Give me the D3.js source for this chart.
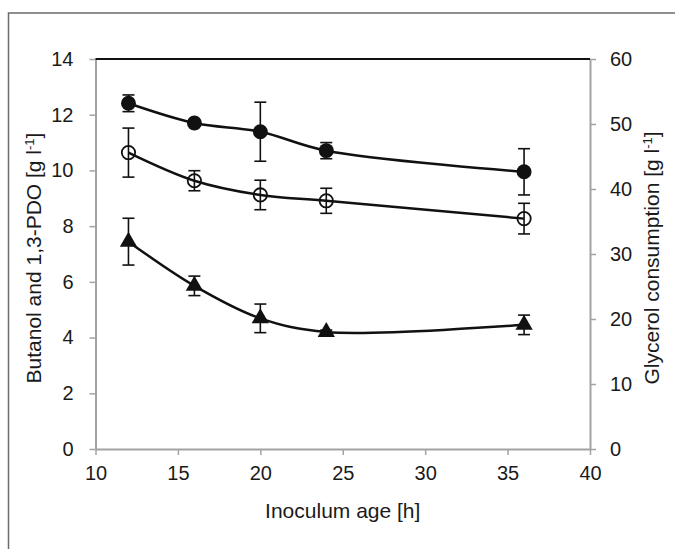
<!DOCTYPE html>
<html>
<head>
<meta charset="utf-8">
<script src="https://cdn.jsdelivr.net/npm/d3@7"></script>
<style>
  html, body { margin: 0; padding: 0; background: #fff; }
  svg { display: block; font-family: "Liberation Sans", Arial, sans-serif; }
</style>
</head>
<body>
<div id="chart"></div>
<script>
// Inoculum age vs product concentrations / glycerol consumption

// x values (inoculum age, h)
const ageHours = [12, 16, 20, 24, 36];

// left axis series (g/l)
const butanolValues = [12.41, 11.70, 11.39, 10.71, 9.95];
const butanolErrors = [0.3, 0.1, 1.06, 0.29, 0.83];
const pdoValues = [10.64, 9.63, 9.12, 8.91, 8.27];
const pdoErrors = [0.88, 0.36, 0.53, 0.45, 0.55];

// right axis series (g/l)
const glycerolValues = [31.9, 25.1, 20.1, 18.0, 19.1];
const glycerolErrors = [3.6, 1.5, 2.2, 0.3, 1.5];

// tick labels
const xTicks = [10, 15, 20, 25, 30, 35, 40];
const yLeftTicks = [0, 2, 4, 6, 8, 10, 12, 14];
const yRightTicks = [0, 10, 20, 30, 40, 50, 60];

const width = 675, height = 549;
const plot = { left: 95.5, right: 590, top: 59, bottom: 449 };

const svg = d3.select('#chart').append('svg')
  .attr('width', width)
  .attr('height', height);

// outer frame (top and left edges only visible)
svg.append('path')
  .attr('d', `M8.5,${height} L8.5,13 L${width},13`)
  .attr('fill', 'none')
  .attr('stroke', '#6b6b6b')
  .attr('stroke-width', 1.5);

const x = d3.scaleLinear().domain([10, 40]).range([plot.left, plot.right]);
const yL = d3.scaleLinear().domain([0, 14]).range([plot.bottom, plot.top]);
const yR = d3.scaleLinear().domain([0, 60]).range([plot.bottom, plot.top]);

const axisColor = '#a3a3a3';
const fontSize = 20;
const titleSize = 21;

function styleAxis(g) {
  g.selectAll('.domain').attr('stroke', axisColor).attr('stroke-width', 2);
  g.selectAll('.tick line').attr('stroke', axisColor).attr('stroke-width', 1.5);
  g.selectAll('.tick text').attr('fill', '#1a1a1a').style('font-size', fontSize + 'px');
}

// left axis
svg.append('g')
  .attr('transform', `translate(${plot.left},0)`)
  .call(d3.axisLeft(yL).tickValues(yLeftTicks).tickSize(6).tickPadding(16).tickSizeOuter(0))
  .call(styleAxis);

// right axis
svg.append('g')
  .attr('transform', `translate(${plot.right},0)`)
  .call(d3.axisRight(yR).tickValues(yRightTicks).tickSize(6).tickPadding(14).tickSizeOuter(0))
  .call(styleAxis);

// bottom axis
svg.append('g')
  .attr('transform', `translate(0,${plot.bottom})`)
  .call(d3.axisBottom(x).tickValues(xTicks).tickSize(6).tickPadding(11).tickSizeOuter(0))
  .call(styleAxis);

// top border of plot area
svg.append('line')
  .attr('x1', plot.left).attr('x2', plot.right)
  .attr('y1', plot.top).attr('y2', plot.top)
  .attr('stroke', '#111')
  .attr('stroke-width', 2);

// axis titles
svg.append('text')
  .attr('transform', `translate(41,${(plot.top + plot.bottom) / 2 + 4}) rotate(-90)`)
  .attr('text-anchor', 'middle')
  .style('font-size', titleSize + 'px')
  .attr('fill', '#1a1a1a')
  .html('Butanol and 1,3-PDO [g l<tspan dy="-7" font-size="13">-1</tspan><tspan dy="7">]</tspan>');

svg.append('text')
  .attr('transform', `translate(659,${(plot.top + plot.bottom) / 2 + 4}) rotate(-90)`)
  .attr('text-anchor', 'middle')
  .style('font-size', titleSize + 'px')
  .attr('fill', '#1a1a1a')
  .html('Glycerol consumption [g l<tspan dy="-7" font-size="13">-1</tspan><tspan dy="7">]</tspan>');

svg.append('text')
  .attr('x', (plot.left + plot.right) / 2)
  .attr('y', 518)
  .attr('text-anchor', 'middle')
  .style('font-size', titleSize + 'px')
  .attr('fill', '#1a1a1a')
  .text('Inoculum age [h]');

// series setup
const series = [
  { values: butanolValues, errors: butanolErrors, y: yL, marker: 'filled' },
  { values: pdoValues, errors: pdoErrors, y: yL, marker: 'open' },
  { values: glycerolValues, errors: glycerolErrors, y: yR, marker: 'triangle' }
];

const line = d3.line().curve(d3.curveCatmullRom.alpha(0.5));

const dataLayer = svg.append('g');

series.forEach(s => {
  const pts = ageHours.map((a, i) => ({ x: a, v: s.values[i], e: s.errors[i] }));

  dataLayer.append('path')
    .attr('d', line(pts.map(p => [x(p.x), s.y(p.v)])))
    .attr('fill', 'none')
    .attr('stroke', '#111')
    .attr('stroke-width', 2.5);

  // error bars
  const eb = dataLayer.append('g')
    .attr('stroke', '#111')
    .attr('stroke-width', 1.6)
    .selectAll('g')
    .data(pts)
    .enter()
    .append('g');

  eb.append('line')
    .attr('x1', p => x(p.x)).attr('x2', p => x(p.x))
    .attr('y1', p => s.y(p.v - p.e)).attr('y2', p => s.y(p.v + p.e));
  eb.append('line')
    .attr('x1', p => x(p.x) - 6).attr('x2', p => x(p.x) + 6)
    .attr('y1', p => s.y(p.v + p.e)).attr('y2', p => s.y(p.v + p.e));
  eb.append('line')
    .attr('x1', p => x(p.x) - 6).attr('x2', p => x(p.x) + 6)
    .attr('y1', p => s.y(p.v - p.e)).attr('y2', p => s.y(p.v - p.e));

  // markers
  const m = dataLayer.append('g')
    .selectAll('path')
    .data(pts)
    .enter()
    .append('path')
    .attr('transform', p => `translate(${x(p.x)},${s.y(p.v)})`);

  if (s.marker === 'filled') {
    m.attr('d', d3.symbol(d3.symbolCircle, 175)())
      .attr('fill', '#111');
  } else if (s.marker === 'open') {
    m.attr('d', d3.symbol(d3.symbolCircle, 140)())
      .attr('fill', 'none')
      .attr('stroke', '#111')
      .attr('stroke-width', 1.8);
  } else {
    m.attr('d', d3.symbol(d3.symbolTriangle, 130)())
      .attr('fill', '#111');
  }
});
</script>
</body>
</html>
